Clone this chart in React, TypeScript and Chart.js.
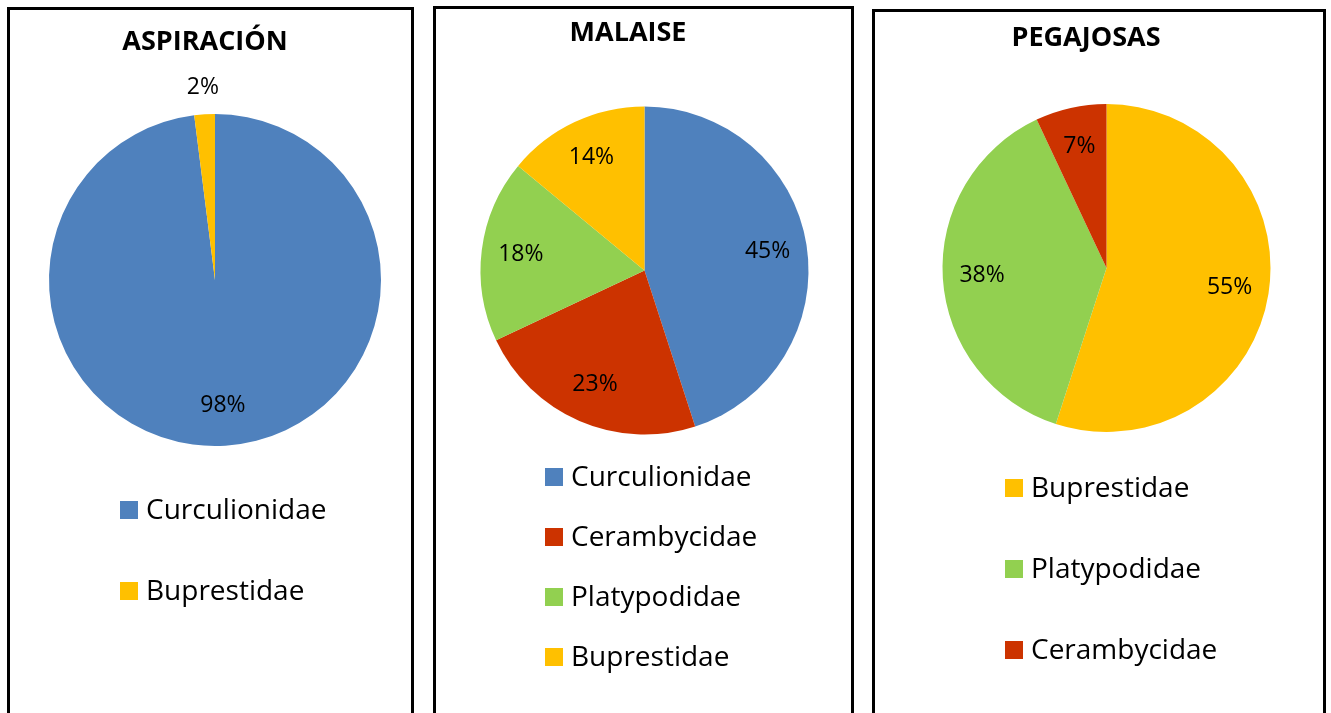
import React, { useEffect, useRef } from "react";
import { Chart, registerables } from "chart.js";

Chart.register(...registerables);

const BLUE = "#4F81BD";
const RED = "#CC3300";
const GREEN = "#92D050";
const YELLOW = "#FFC000";

const aspiracionTitle = "ASPIRACIÓN";
const aspiracionLabels = ["Curculionidae", "Buprestidae"];
const aspiracionValues = [98, 2];
const aspiracionColors = [BLUE, YELLOW];

const malaiseTitle = "MALAISE";
const malaiseLabels = ["Curculionidae", "Cerambycidae", "Platypodidae", "Buprestidae"];
const malaiseValues = [45, 23, 18, 14];
const malaiseColors = [BLUE, RED, GREEN, YELLOW];

const pegajosasTitle = "PEGAJOSAS";
const pegajosasLabels = ["Buprestidae", "Platypodidae", "Cerambycidae"];
const pegajosasValues = [55, 38, 7];
const pegajosasColors = [YELLOW, GREEN, RED];

const BORDER = 3;
const FONT = '"Open Sans", "Noto Sans", sans-serif';

type Layout = {
  left: number;
  top: number;
  width: number;
  titleX: number;
  titleY: number;
  cx: number;
  cy: number;
  r: number;
  legendX: number;
  legendY: number;
  legendStep: number;
};

const layouts: Layout[] = [
  { left: 7, top: 7, width: 407, titleX: 205, titleY: 42, cx: 215, cy: 280, r: 166, legendX: 120, legendY: 510, legendStep: 81 },
  { left: 433, top: 6, width: 421, titleX: 628, titleY: 33, cx: 644.5, cy: 270.5, r: 164, legendX: 545, legendY: 477, legendStep: 60 },
  { left: 872, top: 9, width: 454, titleX: 1086, titleY: 38, cx: 1106.5, cy: 268, r: 164, legendX: 1005, legendY: 488, legendStep: 81 },
];

const panelTextPlugin = {
  id: "panelText",
  afterDraw(chart: any, _args: any, opts: any) {
    const ctx = chart.ctx;
    ctx.save();
    ctx.fillStyle = "#000";
    // title
    ctx.font = `bold 27px ${FONT}`;
    ctx.textAlign = "center";
    ctx.textBaseline = "middle";
    ctx.fillText(opts.title, opts.titleX, opts.titleY);

    // data labels
    const ds = chart.data.datasets[0];
    const total = ds.data.reduce((a: number, b: number) => a + b, 0);
    const meta = chart.getDatasetMeta(0);
    ctx.font = `23px ${FONT}`;
    meta.data.forEach((arc: any, i: number) => {
      const p = arc.getProps(["x", "y", "startAngle", "endAngle", "outerRadius"], true);
      const pct = (ds.data[i] / total) * 100;
      const mid = (p.startAngle + p.endAngle) / 2;
      const rf = pct < 5 ? 1.16 : 0.76;
      const lx = p.x + Math.cos(mid) * p.outerRadius * rf;
      const ly = p.y + Math.sin(mid) * p.outerRadius * rf;
      ctx.fillText(Math.round(pct) + "%", lx, ly);
    });

    // legend
    ctx.font = `28px ${FONT}`;
    ctx.textAlign = "left";
    chart.data.labels.forEach((label: string, i: number) => {
      const y = opts.legendY + i * opts.legendStep;
      ctx.fillStyle = ds.backgroundColor[i];
      ctx.fillRect(opts.legendX, y - 9, 18, 18);
      ctx.fillStyle = "#000";
      ctx.fillText(label, opts.legendX + 26, y + 1);
    });
    ctx.restore();
  },
};

function PiePanel(props: { title: string; labels: string[]; values: number[]; colors: string[]; layout: Layout }) {
  const ref = useRef<HTMLCanvasElement | null>(null);
  const L = props.layout;
  const innerX = L.left + BORDER;
  const innerY = L.top + BORDER;
  const cw = L.width - 2 * BORDER;
  const ch = 730 - innerY;

  useEffect(() => {
    if (!ref.current) return;
    const chart = new Chart(ref.current, {
      type: "pie",
      data: {
        labels: props.labels,
        datasets: [
          {
            data: props.values,
            backgroundColor: props.colors,
            borderWidth: 0,
          },
        ],
      },
      options: {
        responsive: false,
        animation: false,
        layout: {
          padding: {
            left: L.cx - L.r - innerX,
            top: L.cy - L.r - innerY,
            right: cw - (L.cx + L.r - innerX),
            bottom: ch - (L.cy + L.r - innerY),
          },
        },
        plugins: {
          legend: { display: false },
          tooltip: { enabled: false },
          title: { display: false },
          panelText: {
            title: props.title,
            titleX: L.titleX - innerX,
            titleY: L.titleY - innerY,
            legendX: L.legendX - innerX,
            legendY: L.legendY - innerY,
            legendStep: L.legendStep,
          },
        } as any,
      },
      plugins: [panelTextPlugin],
    });
    return () => chart.destroy();
  }, []);

  return (
    <div
      style={{
        position: "absolute",
        left: L.left,
        top: L.top,
        width: L.width,
        height: 740 - L.top,
        boxSizing: "border-box",
        border: `${BORDER}px solid #000`,
        background: "#fff",
      }}
    >
      <canvas ref={ref} width={cw} height={ch} style={{ display: "block", width: cw, height: ch }} />
    </div>
  );
}

export default function App() {
  return (
    <div style={{ position: "absolute", left: 0, top: 0, width: 1331, height: 713, overflow: "hidden", background: "#fff" }}>
      <PiePanel title={aspiracionTitle} labels={aspiracionLabels} values={aspiracionValues} colors={aspiracionColors} layout={layouts[0]} />
      <PiePanel title={malaiseTitle} labels={malaiseLabels} values={malaiseValues} colors={malaiseColors} layout={layouts[1]} />
      <PiePanel title={pegajosasTitle} labels={pegajosasLabels} values={pegajosasValues} colors={pegajosasColors} layout={layouts[2]} />
    </div>
  );
}
